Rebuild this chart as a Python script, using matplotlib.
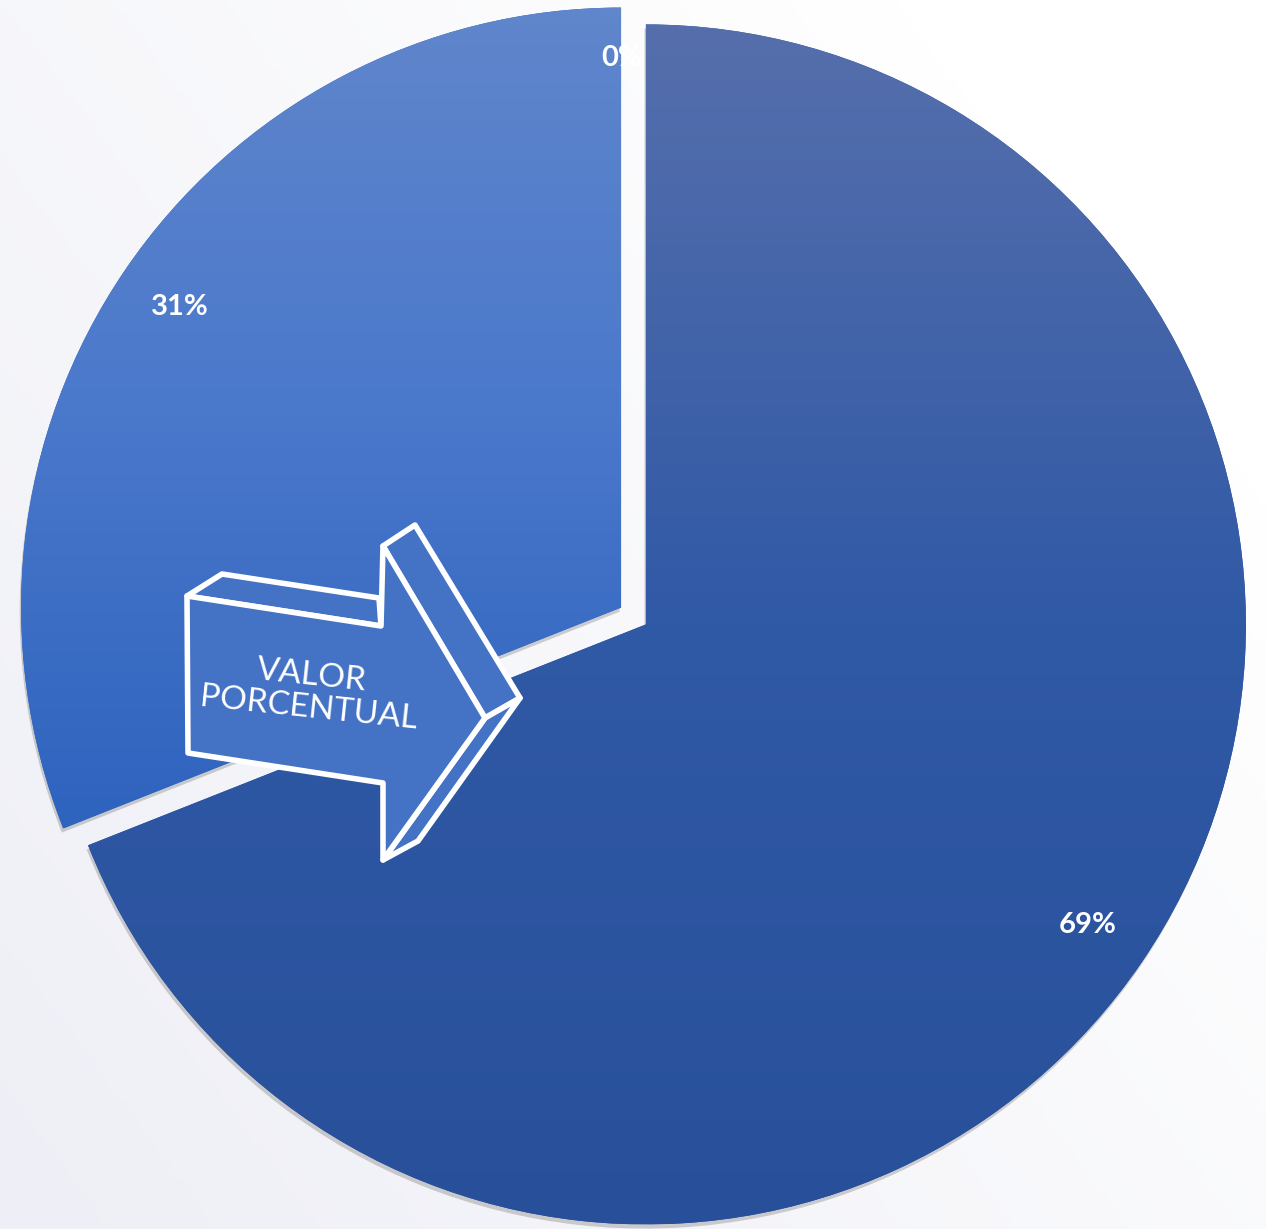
import numpy as np
import matplotlib.pyplot as plt
from matplotlib.colors import LinearSegmentedColormap
from matplotlib.patches import Polygon
import matplotlib.patheffects as pe

# data
categories = ['A', 'B', 'C']
values = [69, 31, 0]
pct_labels = ['69%', '31%', '0%']
# top -> bottom gradient colours for each slice
grad_colors = [('#566FAC', '#3059A6', '#28509A'),
               ('#6086CC', '#4A78CB', '#2E63BE'),
               ('#6086CC', '#4A78CB', '#2E63BE')]

W, H, R = 1266, 1229, 600.0
cx, cy = 633.5, 613.0  # pie centre in pixels (from bottom)

fig = plt.figure(figsize=(W / 100, H / 100), dpi=100)
fig.patch.set_facecolor('#F3F4F8')

# soft background wash
bg = fig.add_axes([0, 0, 1, 1], zorder=0)
xx, yy = np.meshgrid(np.linspace(0, 1, 200), np.linspace(0, 1, 200))
wash = np.clip(0.7 * xx + 0.5 * yy, 0, 1)
bg.imshow(wash, cmap=LinearSegmentedColormap.from_list('bg', ['#EEEFF6', '#FFFFFF']),
          extent=[0, 1, 0, 1], origin='lower', aspect='auto')
bg.axis('off')

ax = fig.add_axes([0, 0, 1, 1], zorder=1)
ax.patch.set_alpha(0)
ax.axis('off')

wedges, texts, autotexts = ax.pie(
    values, startangle=90, counterclock=False, radius=1.0,
    explode=[0.025] * len(values), autopct='%1.0f%%', pctdistance=0.89,
    textprops=dict(color='white', fontsize=21, fontweight='bold', family=['Lato', 'DejaVu Sans']),
    wedgeprops=dict(linewidth=0))

for w, t, lab, cols in zip(wedges, autotexts, pct_labels, grad_colors):
    t.set_text(lab)
    t.set_zorder(5)
    if w.theta2 - w.theta1 <= 0.01:
        # zero slice: Excel puts its label just left of the 12 o'clock edge
        x0, y0 = t.get_position()
        t.set_position((x0 - 0.02, y0 + 0.015))
        continue
    w.set_facecolor(cols[-1])
    w.set_path_effects([pe.SimplePatchShadow(offset=(-1, -3), shadow_rgbFace='#666666', alpha=0.3),
                        pe.Normal()])
    ext = w.get_path().get_extents(w.get_transform() + ax.transData.inverted())
    cmap = LinearSegmentedColormap.from_list('g', list(cols[::-1]))
    grad = np.linspace(0, 1, 256).reshape(-1, 1)
    im = ax.imshow(grad, cmap=cmap, origin='lower', aspect='auto',
                   extent=[ext.x0, ext.x1, ext.y0, ext.y1], zorder=2)
    im.set_clip_path(w)
ax.set_xlim(-cx / R, (W - cx) / R)
ax.set_ylim(-cy / R, (H - cy) / R)

# 3D arrow callout, in pixel coordinates (from top)
ov = fig.add_axes([0, 0, 1, 1], zorder=3)
ov.set_xlim(0, W)
ov.set_ylim(H, 0)
ov.axis('off')
ov.patch.set_alpha(0)

fill = '#4472C4'
front = [(187, 596), (381, 626), (383, 546), (485, 718), (383, 860), (383, 783), (188, 753)]
top_face = [(187, 596), (222, 574), (379, 598), (381, 626)]
head_top = [(383, 546), (415, 525), (520, 698), (485, 718)]
head_low = [(485, 718), (520, 698), (418, 841), (383, 860)]
for poly in (top_face, head_top, head_low, front):
    ov.add_patch(Polygon(poly, closed=True, facecolor=fill, edgecolor='white',
                         linewidth=4, joinstyle='round'))
ov.text(310, 692, 'VALOR\nPORCENTUAL', color='white', fontsize=24,
        family=['Lato', 'DejaVu Sans'], fontweight='normal', ha='center', va='center',
        rotation=-6, linespacing=1.1, rotation_mode='anchor')

fig.savefig('out.png', dpi=100, facecolor=fig.get_facecolor())
